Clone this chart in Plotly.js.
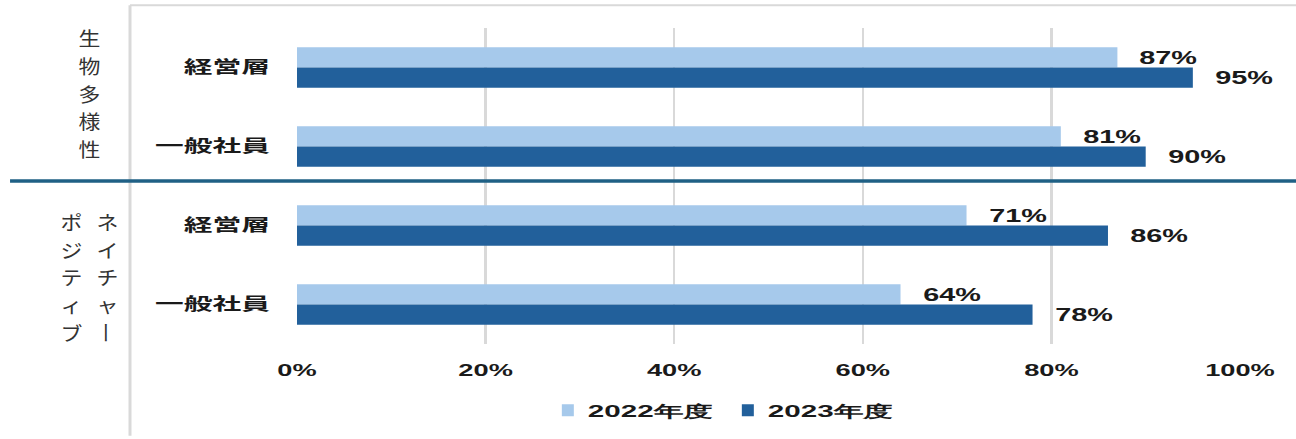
<!DOCTYPE html>
<html>
<head>
<meta charset="utf-8">
<script src="https://cdn.plot.ly/plotly-3.0.1.min.js"></script>
<style>
html,body{margin:0;padding:0;background:#fff;}
#chart{width:1296px;height:439px;}
</style>
</head>
<body>
<div id="chart"></div>
<script>
// ---- data ----
const groups = ['生物多様性', '生物多様性', 'ネイチャーポジティブ', 'ネイチャーポジティブ'];
const roles = ['経営層', '一般社員', '経営層', '一般社員'];
const categories = groups.map((g, i) => g + '｜' + roles[i]);
const seriesNames = ['2022年度', '2023年度'];
const values2022 = [87, 81, 71, 64];
const values2023 = [95, 90, 86, 78];
const xTickVals = [0, 20, 40, 60, 80, 100];
const xTickText = ['0%', '20%', '40%', '60%', '80%', '100%'];
// vertical group label columns (read right to left)
const groupLabelColumns = ['生物多様性', 'ネイチャー', 'ポジティブ'];

// ---- styles ----
const colors = ['#A6C9EB', '#22609B'];
const darkText = '#1a1a1a';
const numFont = 'Liberation Sans, Arial, sans-serif';
const jpFont = 'Noto Sans CJK JP, sans-serif';

const traces = [values2022, values2023].map((vals, k) => ({
  type: 'bar',
  orientation: 'h',
  name: seriesNames[k],
  x: vals,
  y: categories,
  marker: {color: colors[k]},
  hoverinfo: 'skip'
}));

// data labels
const annotations = [];
[values2022, values2023].forEach((vals, k) => {
  vals.forEach((v, i) => {
    annotations.push({
      x: v, y: categories[i], xref: 'x', yref: 'y',
      text: v + '%', showarrow: false,
      xanchor: 'left', yanchor: 'middle',
      xshift: 31, yshift: k === 0 ? 10 : -10,
      font: {family: numFont, size: 18, color: darkText, weight: 'bold'}
    });
  });
});
const nDataLabels = annotations.length;

// vertical group labels: one annotation per character
const plotTop = 28, plotH = 320, plotL = 297, plotW = 943;
const colPos = [ // pixel centre of column and of its first character
  {cx: 89, cy: 38},
  {cx: 107, cy: 224},
  {cx: 71, cy: 224}
];
const charPitch = 28;
const groupLabelFont = {family: jpFont, size: 19, color: '#333', weight: 400};
groupLabelColumns.forEach((col, c) => {
  col.split('').forEach((ch, j) => {
    annotations.push({
      x: (colPos[c].cx - plotL) / plotW,
      y: 1 - (colPos[c].cy + j * charPitch - plotTop) / plotH,
      xref: 'paper', yref: 'paper',
      text: ch, showarrow: false, xanchor: 'center', yanchor: 'middle',
      textangle: ch === 'ー' ? 90 : 0,
      font: groupLabelFont
    });
  });
});

const shapes = [
  {type: 'line', xref: 'paper', yref: 'paper', x0: -0.1771, x1: -0.1771, y0: 1.072, y1: -0.29,
   line: {color: '#d9d9d9', width: 3}},
  {type: 'line', xref: 'paper', yref: 'paper', x0: -0.1771, x1: 1.07, y0: 1.072, y1: 1.072,
   line: {color: '#d9d9d9', width: 2}},
  {type: 'line', xref: 'paper', yref: 'paper', x0: -0.3043, x1: 1.07, y0: 0.5156, y1: 0.5156,
   line: {color: '#1F6085', width: 3.5}}
];

const layout = {
  width: 1296, height: 439,
  margin: {l: 297, r: 56, t: 28, b: 91, pad: 0},
  paper_bgcolor: '#fff', plot_bgcolor: '#fff',
  barmode: 'group', bargap: 0.49, bargroupgap: 0,
  showlegend: true,
  legend: {
    orientation: 'h', x: 0.266, xanchor: 'left', y: -0.21, yanchor: 'middle',
    traceorder: 'normal', entrywidth: 135, entrywidthmode: 'pixels',
    font: {family: numFont, size: 16, color: darkText, weight: 'bold'}
  },
  xaxis: {
    range: [0, 100], tickmode: 'array', tickvals: xTickVals, ticktext: xTickText,
    showgrid: true, gridcolor: '#d9d9d9', gridwidth: 2.5,
    zeroline: false, showline: false, ticks: '',
    ticklabelstandoff: 14,
    tickfont: {family: numFont, size: 17, color: darkText, weight: 'bold'},
    fixedrange: true
  },
  yaxis: {
    type: 'category', categoryorder: 'array', categoryarray: categories,
    autorange: 'reversed', tickmode: 'array', tickvals: categories, ticktext: roles,
    showgrid: false, zeroline: false, showline: false, ticks: '',
    ticklabelstandoff: 26,
    tickfont: {family: jpFont, size: 17, color: darkText, weight: 'bold'},
    fixedrange: true
  },
  annotations: annotations,
  shapes: shapes
};

function stretch(sel, f) {
  document.querySelectorAll(sel).forEach(t => {
    const w = t.getComputedTextLength();
    if (w > 0) {
      t.setAttribute('textLength', (w * f).toFixed(1));
      t.setAttribute('lengthAdjust', 'spacingAndGlyphs');
    }
  });
}

Plotly.newPlot('chart', traces, layout, {displayModeBar: false, staticPlot: true}).then(() => {
  stretch('#chart .ytick text', 1.69);
  stretch('#chart .xtick text', 1.6);
  stretch('#chart .legendtext', 1.85);
  for (let i = 0; i < annotations.length; i++) {
    const f = i < nDataLabels ? 1.6 : 1.15;
    stretch('#chart g.annotation[data-index="' + i + '"] text', f);
  }
});
</script>
</body>
</html>
